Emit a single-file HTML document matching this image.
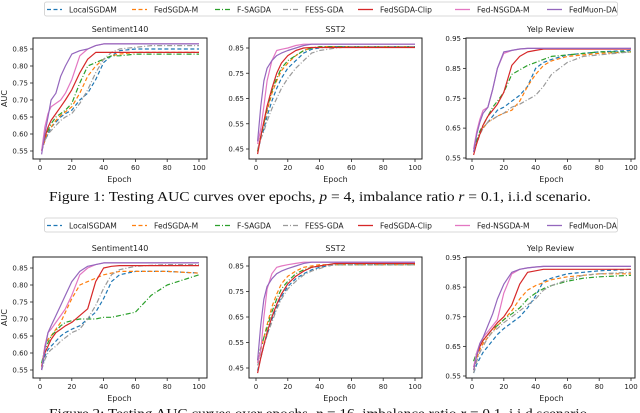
<!DOCTYPE html>
<html><head><meta charset="utf-8">
<style>
html,body{margin:0;padding:0;background:#fff;}
svg{display:block;font-family:"DejaVu Sans","Liberation Sans",sans-serif;}
.cap{font-family:"Liberation Serif",serif;}
</style></head>
<body>
<svg id="fig" width="640" height="413" viewBox="0 0 640 413" xmlns="http://www.w3.org/2000/svg"></svg>
<script>
const epochs = [1,3,5,7,10,13,16,20,25,30,35,40,45,50,60,70,80,100];
const seriesNames = ["LocalSGDAM","FedSGDA-M","F-SAGDA","FESS-GDA","FedSGDA-Clip","Fed-NSGDA-M","FedMuon-DA"];
const xTicks = [0,20,40,60,80,100];
const yTicksSent = [0.55,0.60,0.65,0.70,0.75,0.80,0.85];
const yTicksSst = [0.45,0.55,0.65,0.75,0.85];
const yTicksYelp = [0.55,0.65,0.75,0.85,0.95];
const panelTitles = ["Sentiment140","SST2","Yelp Review"];

// Figure 1
const f1SentBlue   = [0.55,0.58,0.60,0.62,0.635,0.65,0.66,0.67,0.70,0.72,0.76,0.81,0.83,0.845,0.85,0.85,0.85,0.85];
const f1SentOrange = [0.55,0.58,0.61,0.62,0.64,0.655,0.665,0.68,0.72,0.77,0.80,0.82,0.83,0.835,0.84,0.84,0.84,0.84];
const f1SentGreen  = [0.55,0.59,0.61,0.63,0.65,0.66,0.67,0.69,0.75,0.80,0.81,0.82,0.83,0.83,0.835,0.835,0.835,0.835];
const f1SentGray   = [0.55,0.58,0.60,0.61,0.625,0.64,0.65,0.66,0.69,0.73,0.78,0.82,0.84,0.85,0.855,0.86,0.86,0.86];
const f1SentRed    = [0.55,0.59,0.62,0.64,0.66,0.68,0.70,0.73,0.78,0.82,0.84,0.84,0.84,0.84,0.84,0.84,0.84,0.84];
const f1SentPink   = [0.55,0.62,0.66,0.68,0.69,0.70,0.72,0.76,0.83,0.85,0.86,0.865,0.865,0.865,0.865,0.865,0.865,0.865];
const f1SentPurple = [0.54,0.60,0.65,0.70,0.72,0.77,0.80,0.835,0.845,0.85,0.86,0.865,0.865,0.865,0.865,0.865,0.865,0.865];

const f1SstBlue   = [0.44,0.49,0.53,0.58,0.64,0.69,0.73,0.77,0.80,0.83,0.845,0.85,0.855,0.855,0.855,0.855,0.855,0.855];
const f1SstOrange = [0.44,0.50,0.55,0.60,0.67,0.72,0.76,0.79,0.82,0.84,0.85,0.855,0.855,0.855,0.855,0.855,0.855,0.855];
const f1SstGreen  = [0.44,0.50,0.55,0.61,0.68,0.73,0.77,0.80,0.82,0.84,0.85,0.855,0.855,0.855,0.855,0.855,0.855,0.855];
const f1SstGray   = [0.45,0.49,0.52,0.56,0.61,0.65,0.69,0.73,0.77,0.80,0.83,0.84,0.845,0.85,0.855,0.855,0.855,0.855];
const f1SstRed    = [0.43,0.50,0.56,0.62,0.69,0.75,0.79,0.82,0.84,0.85,0.852,0.852,0.852,0.852,0.852,0.852,0.852,0.852];
const f1SstPink   = [0.47,0.53,0.62,0.72,0.80,0.84,0.845,0.85,0.86,0.865,0.865,0.865,0.865,0.865,0.865,0.865,0.865,0.865];
const f1SstPurple = [0.48,0.62,0.72,0.77,0.80,0.82,0.83,0.84,0.85,0.86,0.865,0.865,0.865,0.865,0.865,0.865,0.865,0.865];

const f1YelpBlue   = [0.57,0.60,0.63,0.65,0.67,0.69,0.71,0.72,0.74,0.76,0.79,0.85,0.87,0.88,0.895,0.90,0.905,0.91];
const f1YelpOrange = [0.57,0.60,0.63,0.65,0.67,0.68,0.69,0.70,0.71,0.74,0.79,0.83,0.86,0.875,0.89,0.895,0.90,0.905];
const f1YelpGreen  = [0.57,0.61,0.64,0.66,0.69,0.72,0.74,0.77,0.83,0.845,0.86,0.87,0.88,0.89,0.895,0.90,0.905,0.905];
const f1YelpGray   = [0.57,0.60,0.63,0.65,0.67,0.68,0.69,0.70,0.72,0.73,0.745,0.76,0.79,0.83,0.87,0.89,0.895,0.905];
const f1YelpRed    = [0.56,0.60,0.63,0.66,0.69,0.71,0.73,0.77,0.86,0.89,0.905,0.91,0.915,0.915,0.915,0.915,0.915,0.915];
const f1YelpPink   = [0.58,0.64,0.68,0.71,0.72,0.78,0.85,0.90,0.91,0.915,0.917,0.917,0.917,0.917,0.917,0.917,0.917,0.917];
const f1YelpPurple = [0.57,0.63,0.67,0.70,0.72,0.78,0.85,0.905,0.91,0.915,0.917,0.917,0.917,0.917,0.917,0.917,0.917,0.917];

// Figure 2
const f2SentBlue   = [0.55,0.59,0.61,0.62,0.635,0.65,0.66,0.67,0.68,0.70,0.72,0.76,0.81,0.83,0.84,0.84,0.84,0.835];
const f2SentOrange = [0.56,0.62,0.64,0.65,0.67,0.69,0.72,0.76,0.80,0.81,0.82,0.83,0.835,0.84,0.84,0.84,0.84,0.835];
const f2SentGreen  = [0.57,0.61,0.63,0.65,0.665,0.68,0.69,0.695,0.70,0.70,0.70,0.705,0.705,0.71,0.72,0.77,0.80,0.83];
const f2SentGray   = [0.55,0.58,0.60,0.61,0.62,0.635,0.645,0.66,0.67,0.70,0.74,0.79,0.83,0.845,0.855,0.858,0.86,0.86];
const f2SentRed    = [0.56,0.60,0.62,0.64,0.66,0.67,0.68,0.69,0.71,0.73,0.81,0.85,0.855,0.857,0.857,0.857,0.857,0.857];
const f2SentPink   = [0.55,0.62,0.66,0.67,0.69,0.71,0.73,0.77,0.83,0.85,0.86,0.865,0.865,0.865,0.865,0.865,0.865,0.865];
const f2SentPurple = [0.55,0.61,0.66,0.68,0.71,0.74,0.77,0.81,0.84,0.855,0.86,0.865,0.865,0.865,0.865,0.865,0.865,0.865];

const f2SstBlue   = [0.44,0.49,0.54,0.58,0.64,0.69,0.73,0.77,0.80,0.82,0.835,0.845,0.85,0.855,0.855,0.855,0.855,0.855];
const f2SstOrange = [0.47,0.52,0.57,0.62,0.69,0.74,0.78,0.81,0.83,0.845,0.85,0.855,0.855,0.855,0.855,0.855,0.855,0.855];
const f2SstGreen  = [0.48,0.53,0.57,0.61,0.67,0.72,0.76,0.79,0.82,0.835,0.845,0.85,0.855,0.855,0.855,0.855,0.855,0.855];
const f2SstGray   = [0.46,0.50,0.54,0.58,0.63,0.68,0.72,0.76,0.79,0.815,0.83,0.84,0.85,0.855,0.855,0.855,0.855,0.855];
const f2SstRed    = [0.43,0.49,0.54,0.59,0.65,0.70,0.74,0.78,0.81,0.83,0.845,0.85,0.855,0.86,0.86,0.86,0.86,0.86];
const f2SstPink   = [0.47,0.52,0.65,0.76,0.82,0.845,0.85,0.855,0.86,0.865,0.865,0.865,0.865,0.865,0.865,0.865,0.865,0.865];
const f2SstPurple = [0.48,0.62,0.72,0.77,0.80,0.82,0.83,0.84,0.85,0.86,0.865,0.865,0.865,0.865,0.865,0.865,0.865,0.865];

const f2YelpBlue   = [0.56,0.59,0.61,0.63,0.65,0.67,0.69,0.71,0.73,0.75,0.78,0.82,0.87,0.88,0.895,0.90,0.905,0.91];
const f2YelpOrange = [0.57,0.61,0.64,0.66,0.68,0.70,0.72,0.74,0.77,0.81,0.84,0.855,0.865,0.875,0.885,0.89,0.895,0.895];
const f2YelpGreen  = [0.60,0.63,0.65,0.67,0.69,0.71,0.72,0.74,0.76,0.78,0.81,0.83,0.845,0.855,0.87,0.88,0.885,0.89];
const f2YelpGray   = [0.56,0.60,0.63,0.65,0.68,0.70,0.71,0.73,0.75,0.77,0.79,0.81,0.84,0.855,0.875,0.89,0.895,0.90];
const f2YelpRed    = [0.58,0.62,0.65,0.67,0.69,0.71,0.73,0.75,0.79,0.86,0.90,0.905,0.91,0.91,0.91,0.91,0.91,0.91];
const f2YelpPink   = [0.58,0.63,0.66,0.68,0.70,0.72,0.74,0.83,0.895,0.91,0.915,0.918,0.92,0.92,0.92,0.92,0.92,0.92];
const f2YelpPurple = [0.57,0.62,0.66,0.68,0.72,0.76,0.81,0.86,0.90,0.91,0.915,0.918,0.92,0.92,0.92,0.92,0.92,0.92];

const styles = [
  {c:"#1f77b4", d:"4,2.5"},
  {c:"#ff7f0e", d:"4,2.5"},
  {c:"#2ca02c", d:"5,2,1,2"},
  {c:"#9a9a9a", d:"5,2,1,2"},
  {c:"#d62728", d:""},
  {c:"#e377c2", d:""},
  {c:"#9467bd", d:""}
];

const svg = document.getElementById('fig');
const NS = "http://www.w3.org/2000/svg";
function mk(tag, attrs, parent){
  const e = document.createElementNS(NS, tag);
  for (const k in attrs) e.setAttribute(k, attrs[k]);
  (parent||svg).appendChild(e);
  return e;
}

function legend(y, prefix){
  const g = mk('g', {});
  
  
  const box = mk('rect', {x:44.5, y:y-7.5, width:573, height:14, fill:'#fff', stroke:'#ccc', 'stroke-width':0.8, rx:2}, g);
  
  
  const sx = [47,132,215,283,358,455,547];
  for (let i=0;i<7;i++){
    const ln = mk('line', {x1:sx[i], x2:sx[i]+15, y1:y, y2:y, stroke:styles[i].c, 'stroke-width':1.3, 'stroke-dasharray':styles[i].d}, g);
    
    
    const t = mk('text', {x:sx[i]+22, y:y+3, 'font-size':7.6, fill:'#222'}, g);
    t.textContent = seriesNames[i];
    
    
  }
}

function panel(p){
  const g = mk('g', {});
  
  
  const sx = v => p.x0 + (v-0)*(p.x100-p.x0)/100;
  const sy = v => p.ya + (v-p.va)*(p.yb-p.ya)/(p.vb-p.va);
  const cp = mk('clipPath', {id:p.name+'-clip'}, g);
  mk('rect', {x:p.left, y:p.top, width:p.right-p.left, height:p.bottom-p.top}, cp);
  p.series.forEach((arr,i)=>{
    const pts = epochs.map((e,j)=>sx(e).toFixed(1)+','+sy(arr[j]).toFixed(1)).join(' ');
    const pl = mk('polyline', {points:pts, fill:'none', stroke:styles[i].c, 'stroke-width':1.2, 'stroke-dasharray':styles[i].d, 'stroke-linejoin':'round', 'clip-path':'url(#'+p.name+'-clip)'}, g);
    
    
  });
  const fr = mk('rect', {x:p.left, y:p.top, width:p.right-p.left, height:p.bottom-p.top, fill:'none', stroke:'#222', 'stroke-width':1}, g);
  
  
  xTicks.forEach(v=>{
    const x = sx(v);
    mk('line', {x1:x, x2:x, y1:p.bottom, y2:p.bottom+3, stroke:'#222', 'stroke-width':0.8}, g);
    const t = mk('text', {x:x, y:p.bottom+11, 'font-size':7, 'text-anchor':'middle', fill:'#222'}, g);
    t.textContent = v;
    
    
  });
  p.yticks.forEach(v=>{
    const y = sy(v);
    mk('line', {x1:p.left-3, x2:p.left, y1:y, y2:y, stroke:'#222', 'stroke-width':0.8}, g);
    const t = mk('text', {x:p.left-5, y:y+2.5, 'font-size':7, 'text-anchor':'end', fill:'#222'}, g);
    t.textContent = v.toFixed(2);
    
    
  });
  const ti = mk('text', {x:(p.left+p.right)/2, y:p.top-6, 'font-size':8, 'text-anchor':'middle', fill:'#222'}, g);
  ti.textContent = p.title;
  
  
  const xl = mk('text', {x:(p.x0+p.x100)/2, y:p.bottom+23, 'font-size':8, 'text-anchor':'middle', fill:'#222'}, g);
  xl.textContent = 'Epoch';
  
  
  if (p.ylabel){
    const yl = mk('text', {x:0, y:0, 'font-size':8, 'text-anchor':'middle', fill:'#222', transform:'translate(7,'+((p.top+p.bottom)/2)+') rotate(-90)'}, g);
    yl.textContent = 'AUC';
    
    
  }
}

function caption(y, parts, name){
  const t = mk('text', {x:320, y:y, 'font-size':13.5, 'text-anchor':'middle', fill:'#111', class:'cap', textLength:542, lengthAdjust:'spacingAndGlyphs'});
  parts.forEach(pt=>{
    const s = mk('tspan', pt[1] ? {'font-style':'italic'} : {}, t);
    s.textContent = pt[0];
  });
  
  
}

legend(9.5, 'fig1');
panel({name:'fig1-sentiment140', title:panelTitles[0], left:33, right:207, top:38, bottom:159, x0:40, x100:199, va:0.85, ya:49, vb:0.55, yb:151, yticks:yTicksSent, ylabel:true,
  series:[f1SentBlue,f1SentOrange,f1SentGreen,f1SentGray,f1SentRed,f1SentPink,f1SentPurple]});
panel({name:'fig1-sst2', title:panelTitles[1], left:249, right:422, top:38, bottom:159, x0:256, x100:415, va:0.85, ya:48, vb:0.45, yb:149, yticks:yTicksSst,
  series:[f1SstBlue,f1SstOrange,f1SstGreen,f1SstGray,f1SstRed,f1SstPink,f1SstPurple]});
panel({name:'fig1-yelp', title:panelTitles[2], left:466, right:635, top:38, bottom:159, x0:472, x100:631, va:0.95, ya:38.5, vb:0.55, yb:158, yticks:yTicksYelp,
  series:[f1YelpBlue,f1YelpOrange,f1YelpGreen,f1YelpGray,f1YelpRed,f1YelpPink,f1YelpPurple]});
caption(201, [['Figure 1: Testing AUC curves over epochs, '],['p',1],[' = 4, imbalance ratio '],['r',1],[' = 0.1, i.i.d scenario.']], 'figure-1-caption');

legend(225.5, 'fig2');
panel({name:'fig2-sentiment140', title:panelTitles[0], left:33, right:207, top:257, bottom:378, x0:40, x100:199, va:0.85, ya:268, vb:0.55, yb:370, yticks:yTicksSent, ylabel:true,
  series:[f2SentBlue,f2SentOrange,f2SentGreen,f2SentGray,f2SentRed,f2SentPink,f2SentPurple]});
panel({name:'fig2-sst2', title:panelTitles[1], left:249, right:422, top:257, bottom:378, x0:256, x100:415, va:0.85, ya:266, vb:0.45, yb:368, yticks:yTicksSst,
  series:[f2SstBlue,f2SstOrange,f2SstGreen,f2SstGray,f2SstRed,f2SstPink,f2SstPurple]});
panel({name:'fig2-yelp', title:panelTitles[2], left:466, right:635, top:257, bottom:378, x0:472, x100:631, va:0.95, ya:257.5, vb:0.55, yb:376, yticks:yTicksYelp,
  series:[f2YelpBlue,f2YelpOrange,f2YelpGreen,f2YelpGray,f2YelpRed,f2YelpPink,f2YelpPurple]});
caption(418, [['Figure 2: Testing AUC curves over epochs, '],['p',1],[' = 16, imbalance ratio '],['r',1],[' = 0.1, i.i.d scenario.']], 'figure-2-caption');
</script>
</body></html>
